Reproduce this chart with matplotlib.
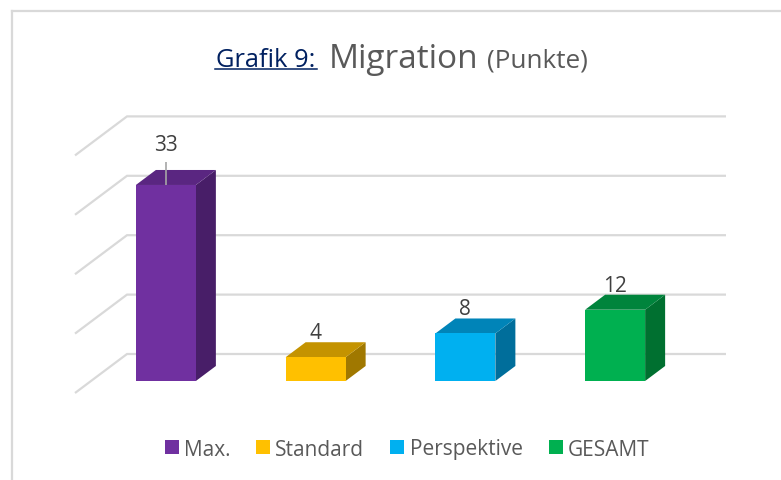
import matplotlib
matplotlib.use("Agg")
import matplotlib.pyplot as plt
from matplotlib.lines import Line2D
from matplotlib.patches import Patch, Polygon

plt.rcParams["font.family"] = ["Open Sans", "DejaVu Sans"]

categories = ["Max.", "Standard", "Perspektive", "GESAMT"]
values = [33, 4, 8, 12]
gridlines = [0, 10, 20, 30, 40]

front_colors = ["#7030A0", "#FFC000", "#00B0F0", "#00B050"]
top_colors = ["#5A2681", "#C49300", "#0084B8", "#00843C"]
side_colors = ["#481E68", "#A07800", "#006E9B", "#007030"]

W, H = 781, 481
UNIT = 5.94  # pixels per point on the value axis
FLOOR_Y = 394

fig = plt.figure(figsize=(W / 100, H / 100), dpi=100, facecolor="white")

# one axes over the floor front, y scale in points
ax_top = 46
ax = fig.add_axes([75 / W, (H - FLOOR_Y) / H, 599 / W, (FLOOR_Y - ax_top) / H])
ax.set_xlim(-0.5, 3.5)
ax.set_ylim(0, (FLOOR_Y - ax_top) / UNIT)
ax.axis("off")

# depth of the fake 3d floor, in data units
depth_x = 52 / 149.75
depth_y = 39 / UNIT
bar_w = 60 / 149.75
d_front = 12 / 39
d_back = 27 / 39

for g in gridlines:
    ax.plot([-0.5, -0.5 + depth_x, 3.5 + depth_x], [g, g + depth_y, g + depth_y],
            color="#D9D9D9", lw=1.6, clip_on=False, zorder=1,
            solid_joinstyle="miter", solid_capstyle="butt")

for i, v in enumerate(values):
    x0 = i - bar_w / 2 + d_front * depth_x
    x1 = x0 + bar_w
    y0 = d_front * depth_y
    y1 = y0 + v
    dx = (d_back - d_front) * depth_x
    dy = (d_back - d_front) * depth_y
    ax.add_patch(Polygon([(x1, y0), (x1 + dx, y0 + dy), (x1 + dx, y1 + dy), (x1, y1)],
                         fc=side_colors[i], ec="none", zorder=3, clip_on=False))
    ax.add_patch(Polygon([(x0, y1), (x1, y1), (x1 + dx, y1 + dy), (x0 + dx, y1 + dy)],
                         fc=top_colors[i], ec="none", zorder=3, clip_on=False))
    ax.add_patch(Polygon([(x0, y0), (x1, y0), (x1, y1), (x0, y1)],
                         fc=front_colors[i], ec="none", zorder=4, clip_on=False))
    if i == 0:
        # leader line from the big bar up to its label
        ax.plot([x0 + bar_w / 2] * 2, [y1, y1 + 23 / UNIT], color="#A6A6A6", lw=1.2,
                zorder=5, solid_capstyle="butt")
        label_y = y1 + 30 / UNIT
    else:
        label_y = y1 + 14 / UNIT
    ax.text(x0 + bar_w / 2, label_y, str(v), ha="center", va="bottom",
            fontsize=15, color="#404040", zorder=6)

# chart frame
for xs, ys in [([11.5, 11.5], [481, 11.5]), ([11.5, 781], [11.5, 11.5])]:
    fig.add_artist(Line2D([x / W for x in xs], [1 - y / H for y in ys], color="#D9D9D9", lw=1.6))

# title, three separate runs
fig.text(216 / W, 1 - 67 / H, "Grafik 9:", fontsize=18.4, color="#002060", va="baseline")
fig.text(329 / W, 1 - 68 / H, "Migration", fontsize=24, color="#595959", va="baseline")
fig.text(487 / W, 1 - 67 / H, "(Punkte)", fontsize=18.8, color="#595959", va="baseline")
fig.add_artist(Line2D([215 / W, 317 / W], [1 - 69.5 / H] * 2, color="#002060", lw=1.1))

handles = [Patch(fc=c, ec="none") for c in front_colors]
fig.legend(handles, categories, loc="center", bbox_to_anchor=(407 / W, 1 - 450 / H), ncol=4,
           frameon=False, fontsize=15, labelcolor="#595959", handlelength=0.67, handleheight=0.67,
           handletextpad=0.25, columnspacing=1.25)

fig.savefig("out.png", dpi=100)
